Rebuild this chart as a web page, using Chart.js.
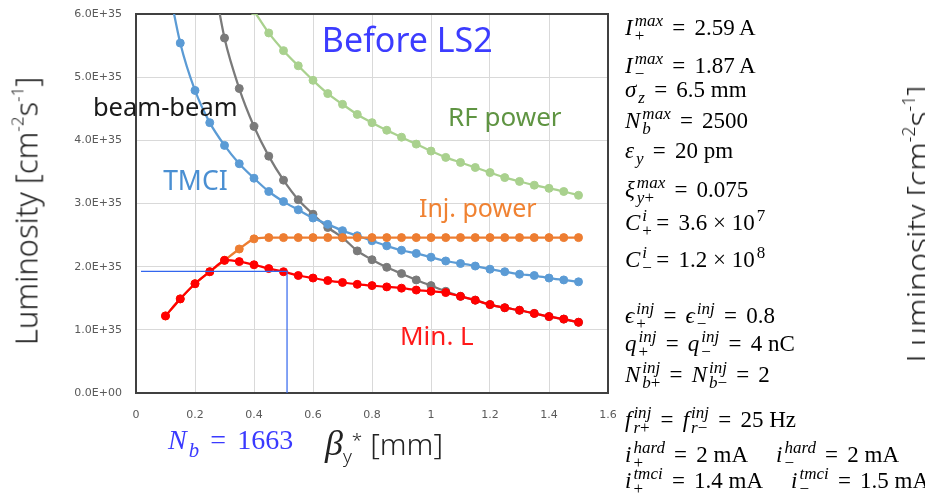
<!DOCTYPE html>
<html>
<head>
<meta charset="utf-8">
<script src="https://cdn.jsdelivr.net/npm/chart.js@4.4.1/dist/chart.umd.min.js"></script>
<style>
body { margin: 0; background: #fff; }
#wrap { position: relative; width: 925px; height: 499px; overflow: hidden; }
canvas { position: absolute; left: 0; top: 0; }
.m { position: absolute; font-family: "Liberation Serif", serif; font-size: 23px; line-height: 23px; white-space: nowrap; color: #000; }
.ss { display: inline-block; position: relative; font-size: 0.74em; line-height: 1; margin-left: 2px; }
.ss .f { position: relative; }
.ss .ab { position: absolute; left: 0; }
.eq { margin: 0 0.4em; }
.rot { position: absolute; font-family: "Noto Sans", sans-serif; font-weight: 300; font-size: 31px; line-height: 1; white-space: nowrap; color: #222; transform: translate(-50%, -50%) rotate(-90deg); }
.rot sup { font-size: 0.55em; vertical-align: 0.8em; line-height: 0; }
</style>
</head>
<body>
<div id="wrap">
  <canvas id="lumiChart" width="925" height="499"></canvas>
  <div class="rot" style="left:26px; top:211px;">Luminosity [cm<sup>-2</sup>s<sup>-1</sup>]</div>
  <div class="rot" style="left:917px; top:224px; font-size:32px;">Luminosity [cm<sup>-2</sup>s<sup>-1</sup>]</div>
  <div id="xTitle" style="position:absolute; left:325px; top:428px; white-space:nowrap; font-family:'Noto Sans',sans-serif; font-weight:300; font-size:30px; line-height:30px; color:#222;">
    <span style="font-family:'Liberation Serif',serif; font-style:italic; font-size:36px;">β</span><span style="position:relative; top:8px; font-size:19px;">y</span><span style="position:relative; top:-8px; font-size:19px;">*</span> [mm]
  </div>
  <div id="nbNote" class="m" style="left:168px; top:426px; font-size:28px; line-height:28px; color:#3a3aff;"></div>
  <div id="params"></div>
</div>
<script>
// beta_y* [mm]
const betaY = [0.1, 0.15, 0.2, 0.25, 0.3, 0.35, 0.4, 0.45, 0.5, 0.55, 0.6, 0.65, 0.7, 0.75, 0.8,
               0.85, 0.9, 0.95, 1.0, 1.05, 1.1, 1.15, 1.2, 1.25, 1.3, 1.35, 1.4, 1.45, 1.5];

// luminosity in units of 1E+35 cm^-2 s^-1
const minL = [1.22, 1.49, 1.73, 1.92, 2.10, 2.08, 2.03, 1.97, 1.92, 1.86, 1.82, 1.78, 1.75, 1.72, 1.70,
              1.68, 1.66, 1.63, 1.61, 1.59, 1.53, 1.47, 1.40, 1.35, 1.31, 1.26, 1.21, 1.17, 1.12];
const injPower = [1.22, 1.49, 1.73, 1.92, 2.10, 2.28, 2.44, 2.46, 2.46, 2.46, 2.46, 2.46, 2.46, 2.46, 2.46,
                  2.46, 2.46, 2.46, 2.46, 2.46, 2.46, 2.46, 2.46, 2.46, 2.46, 2.46, 2.46, 2.46, 2.46];
const tmci = [6.7, 5.54, 4.79, 4.28, 3.92, 3.63, 3.40, 3.19, 3.03, 2.90, 2.77, 2.67, 2.57, 2.49, 2.41,
              2.33, 2.26, 2.21, 2.15, 2.09, 2.05, 2.01, 1.96, 1.92, 1.88, 1.86, 1.82, 1.79, 1.76];
const beamBeam = [null, null, null, 6.9, 5.62, 4.82, 4.22, 3.75, 3.37, 3.06, 2.83, 2.62, 2.46, 2.25, 2.11,
                  1.99, 1.89, 1.79, 1.70, 1.61, 1.53, 1.47, 1.40, 1.35, 1.31, 1.26, 1.21, 1.17, 1.12];
const rfPower = [null, null, null, null, null, null, 6.05, 5.70, 5.42, 5.18, 4.95, 4.74, 4.57, 4.41, 4.28,
                 4.16, 4.05, 3.94, 3.83, 3.73, 3.65, 3.57, 3.49, 3.41, 3.35, 3.29, 3.24, 3.19, 3.13];

// N_b = 1663 working point guide
const markerX = [0.017, 0.512, 0.512];
const markerY = [1.925, 1.925, 0];

const xTicks = [0, 0.2, 0.4, 0.6, 0.8, 1.0, 1.2, 1.4, 1.6];
const yTicks = [0, 1, 2, 3, 4, 5, 6];

const pts = (xs, ys) => xs.map((x, i) => ({ x: x, y: ys[i] }));

function series(label, ys, color) {
    return {
        label: label,
        data: pts(betaY, ys),
        borderColor: color,
        backgroundColor: color,
        borderWidth: 2.25,
        pointRadius: 4,
        pointBorderWidth: 1,
        tension: 0.25,
        clip: 0
    };
}

const labels = [
    { text: "Before LS2", x: 0.63, y: 5.40, color: "#3c3cff", font: "34px 'Noto Sans'" },
    { text: "beam-beam", x: -0.146, y: 4.38, color: "#1a1a1a", font: "25.5px 'Noto Sans'" },
    { text: "TMCI", x: 0.092, y: 3.22, color: "#4a8fd2", font: "26.5px 'Noto Sans'" },
    { text: "RF power", x: 1.058, y: 4.22, color: "#5f9442", font: "26px 'Noto Sans'" },
    { text: "Inj. power", x: 0.959, y: 2.79, color: "#f08232", font: "25px 'Noto Sans'" },
    { text: "Min. L", x: 0.895, y: 0.76, color: "#ff1a1a", font: "26px 'Noto Sans'" }
];

const plotFrame = {
    id: "plotFrame",
    beforeDatasetsDraw(chart) {
        const { ctx, chartArea: a } = chart;
        ctx.save();
        ctx.strokeStyle = "#404040";
        ctx.lineWidth = 2;
        ctx.strokeRect(a.left, a.top, a.right - a.left, a.bottom - a.top);
        ctx.restore();
    }
};

const plotLabels = {
    id: "plotLabels",
    afterDatasetsDraw(chart) {
        const { ctx, scales: { x, y } } = chart;
        ctx.save();
        ctx.textBaseline = "alphabetic";
        labels.forEach(l => {
            ctx.font = l.font;
            ctx.fillStyle = l.color;
            ctx.fillText(l.text, x.getPixelForValue(l.x), y.getPixelForValue(l.y));
        });
        ctx.restore();
    }
};

const ctx = document.getElementById("lumiChart").getContext("2d");
new Chart(ctx, {
    type: "line",
    data: {
        datasets: [
            {
                label: "N_b guide",
                data: pts(markerX, markerY),
                borderColor: "#3366ee",
                borderWidth: 1.2,
                pointRadius: 0,
                tension: 0,
                clip: 0
            },
            series("Min. L", minL, "#ff0000"),
            series("Inj. power", injPower, "#ed7d31"),
            series("TMCI", tmci, "#5b9bd5"),
            series("beam-beam", beamBeam, "#7a7a7a"),
            series("RF power", rfPower, "#a9d18e")
        ]
    },
    options: {
        responsive: false,
        animation: false,
        devicePixelRatio: 1,
        layout: { padding: { left: 0, right: 317, top: 14, bottom: 0 } },
        plugins: { legend: { display: false }, tooltip: { enabled: false } },
        scales: {
            x: {
                type: "linear",
                min: 0,
                max: 1.6,
                afterBuildTicks: s => { s.ticks = xTicks.map(v => ({ value: v })); },
                afterFit: s => { s.height = 106; s.paddingLeft = 0; s.paddingRight = 0; },
                grid: { color: "#d9d9d9", drawTicks: false },
                border: { display: false },
                ticks: {
                    padding: 16,
                    color: "#595959",
                    font: { family: "DejaVu Sans", size: 11 },
                    callback: v => String(+v.toFixed(1))
                }
            },
            y: {
                min: 0,
                max: 6,
                afterBuildTicks: s => { s.ticks = yTicks.map(v => ({ value: v })); },
                afterFit: s => { s.width = 136; s.paddingTop = 0; s.paddingBottom = 0; },
                grid: { color: "#d9d9d9", drawTicks: false },
                border: { display: false },
                ticks: {
                    padding: 14,
                    color: "#595959",
                    font: { family: "DejaVu Sans", size: 11 },
                    callback: v => v === 0 ? "0.0E+00" : v.toFixed(1) + "E+35"
                }
            }
        }
    },
    plugins: [plotFrame, plotLabels]
});

// math text: base with stacked superscript / subscript
function mv(base, sup, sub) {
    sup = sup || "";
    sub = sub || "";
    const supInFlow = sup.length >= sub.length;
    let s = base + '<span class="ss">';
    if (supInFlow) {
        s += '<span class="f" style="top:-0.55em">' + sup + '</span>';
        if (sub) s += '<span class="ab" style="top:0.38em">' + sub + '</span>';
    } else {
        s += '<span class="f" style="top:0.38em">' + sub + '</span>';
        if (sup) s += '<span class="ab" style="top:-0.55em">' + sup + '</span>';
    }
    return s + '</span>';
}
const it = t => "<i>" + t + "</i>";
const eq = '<span class="eq">=</span>';
const gap = '<span style="margin-left:28px"></span>';

const paramLines = [
    [35, mv(it("I"), it("max"), "+") + eq + "2.59 A"],
    [73, mv(it("I"), it("max"), "−") + eq + "1.87 A"],
    [97, mv(it("σ"), "", it("z")) + eq + "6.5 mm"],
    [128, mv(it("N"), it("max"), it("b")) + eq + "2500"],
    [158, mv(it("ε"), "", it("y")) + eq + "20 pm"],
    [197, mv(it("ξ"), it("max"), it("y") + "+") + eq + "0.075"],
    [230, mv(it("C"), it("i"), "+") + eq + "3.6 × 10" + mv("", "7", "")],
    [267, mv(it("C"), it("i"), "−") + eq + "1.2 × 10" + mv("", "8", "")],
    [323, mv(it("ϵ"), it("inj"), "+") + eq + mv(it("ϵ"), it("inj"), "−") + eq + "0.8"],
    [351, mv(it("q"), it("inj"), "+") + eq + mv(it("q"), it("inj"), "−") + eq + "4 nC"],
    [382, mv(it("N"), it("inj"), it("b") + "+") + eq + mv(it("N"), it("inj"), it("b") + "−") + eq + "2"],
    [427, mv(it("f"), it("inj"), it("r") + "+") + eq + mv(it("f"), it("inj"), it("r") + "−") + eq + "25 Hz"],
    [462, mv(it("i"), it("hard"), "+") + eq + "2 mA" + gap + mv(it("i"), it("hard"), "−") + eq + "2 mA"],
    [488, mv(it("i"), it("tmci"), "+") + eq + "1.4 mA" + gap + mv(it("i"), it("tmci"), "−") + eq + "1.5 mA"]
];

const paramBox = document.getElementById("params");
paramLines.forEach(([base, html]) => {
    const d = document.createElement("div");
    d.className = "m";
    d.style.left = "625px";
    d.style.top = (base - 19) + "px";
    d.innerHTML = html;
    paramBox.appendChild(d);
});

document.getElementById("nbNote").innerHTML = mv(it("N"), "", it("b")) + eq + "1663";
</script>
</body>
</html>
